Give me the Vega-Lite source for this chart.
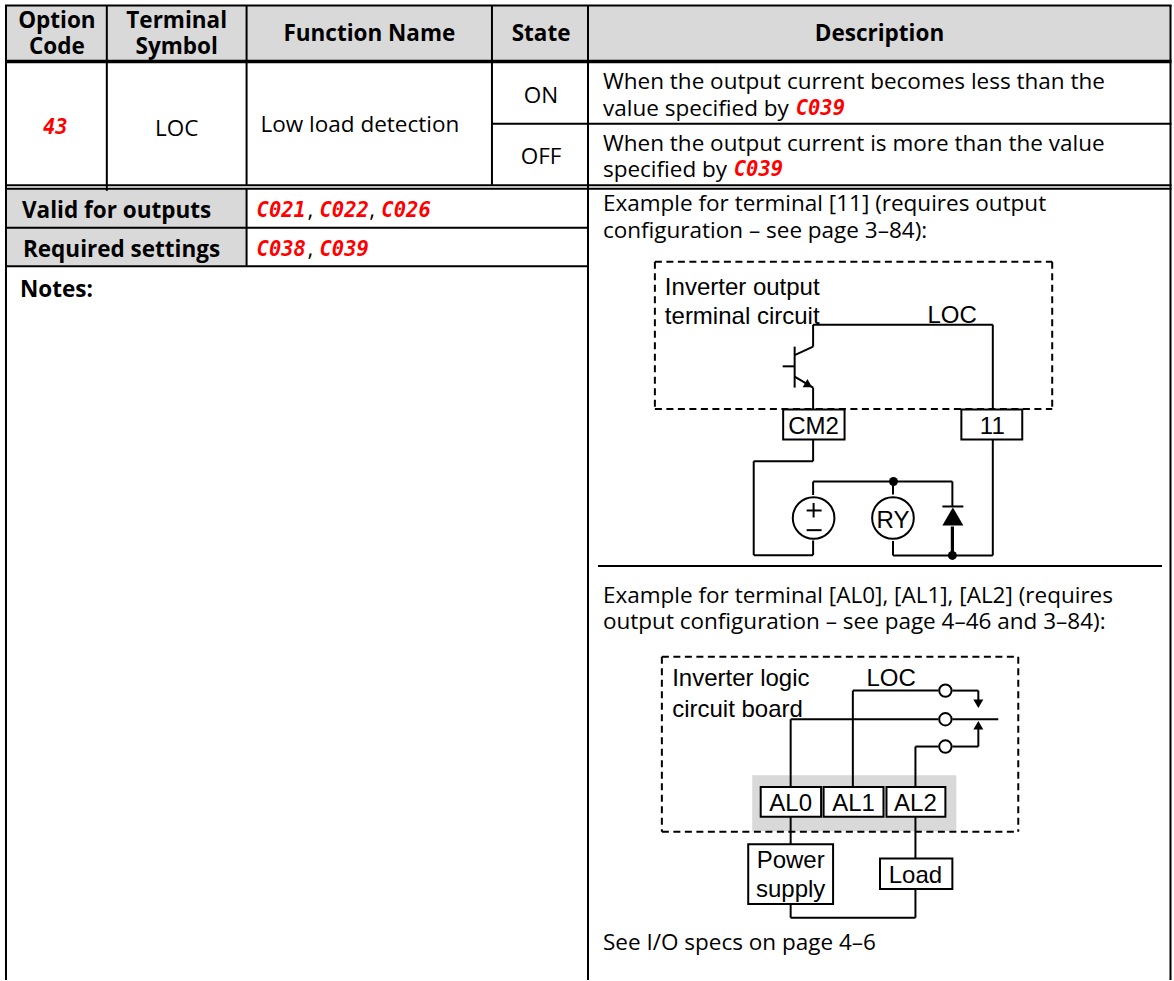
{"$schema":"https://vega.github.io/schema/vega-lite/v6.json","width":1174,"height":981,"autosize":{"type":"fit","contains":"padding"},"padding":0,"background":"white","view":{"stroke":null},
"datasets":{
"gray":[{"x":6,"x2":1172,"y":6,"y2":60},{"x":6,"x2":247,"y":189,"y2":266},{"x":753.5,"x2":958,"y":776,"y2":832}],
"thin":[
{"x":5,"x2":1173.5,"y":5.5,"y2":5.5},{"x":6,"x2":1173.5,"y":185.5,"y2":185.5},{"x":6,"x2":1173.5,"y":189,"y2":189},{"x":492.8,"x2":1173.5,"y":124,"y2":124},{"x":6,"x2":589,"y":228,"y2":228},{"x":6,"x2":589,"y":266.5,"y2":266.5},{"x":599,"x2":1164,"y":566.7,"y2":566.7},
{"x":6,"x2":6,"y":5,"y2":981},{"x":107,"x2":107,"y":5,"y2":191},{"x":247,"x2":247,"y":5,"y2":185},{"x":247,"x2":247,"y":189,"y2":266},{"x":492.8,"x2":492.8,"y":5,"y2":185},{"x":589,"x2":589,"y":5,"y2":981},{"x":1172.5,"x2":1172.5,"y":5,"y2":981}],
"thick":[{"x":5,"x2":1173.5,"y":61.5,"y2":61.5}],
"dash":[{"x":656,"x2":1054,"y":262,"y2":262},{"x":656,"x2":1054,"y":409.5,"y2":409.5},{"x":656,"x2":656,"y":262,"y2":409.5},{"x":1054,"x2":1054,"y":262,"y2":409.5},
{"x":663,"x2":1020,"y":657.5,"y2":657.5},{"x":663,"x2":1020,"y":832.5,"y2":832.5},{"x":663,"x2":663,"y":657.5,"y2":832.5},{"x":1020,"x2":1020,"y":657.5,"y2":832.5}],
"wires":[
{"x":814.5,"x2":994.5,"y":325,"y2":325},{"x":994.5,"x2":994.5,"y":325,"y2":410},{"x":814.5,"x2":814.5,"y":325,"y2":347},{"x":814.5,"x2":796,"y":347,"y2":355.5},{"x":796,"x2":796,"y":347,"y2":388},{"x":784,"x2":796,"y":366.7,"y2":366.7},{"x":796,"x2":814.5,"y":377,"y2":388},{"x":814.5,"x2":814.5,"y":388,"y2":410},
{"x":814.5,"x2":814.5,"y":440,"y2":461.7},{"x":814.5,"x2":755,"y":461.7,"y2":461.7},{"x":755,"x2":755,"y":461.7,"y2":555.7},{"x":755,"x2":814.5,"y":555.7,"y2":555.7},{"x":814.5,"x2":814.5,"y":555.7,"y2":541},
{"x":814.5,"x2":814.5,"y":495.5,"y2":482},{"x":814.5,"x2":954,"y":482,"y2":482},{"x":954,"x2":954,"y":482,"y2":507},{"x":944,"x2":965,"y":507,"y2":507},
{"x":894.5,"x2":894.5,"y":482,"y2":495},{"x":894.5,"x2":894.5,"y":541.5,"y2":556},{"x":894.5,"x2":994.5,"y":556,"y2":556},{"x":994.5,"x2":994.5,"y":556,"y2":440},
{"x":808,"x2":823,"y":511,"y2":511},{"x":815,"x2":815,"y":503.5,"y2":518},{"x":808,"x2":823,"y":530.7,"y2":530.7},
{"x":854.3,"x2":854.3,"y":788,"y2":691.3},{"x":854.3,"x2":940,"y":691.3,"y2":691.3},{"x":954,"x2":980,"y":691.3,"y2":691.3},{"x":980,"x2":980,"y":691.3,"y2":702},
{"x":792,"x2":792,"y":788,"y2":720},{"x":792,"x2":940,"y":720,"y2":720},{"x":954,"x2":1000,"y":720,"y2":720},
{"x":917,"x2":917,"y":788,"y2":747.3},{"x":917,"x2":940,"y":747.3,"y2":747.3},{"x":954,"x2":980,"y":747.3,"y2":747.3},{"x":980,"x2":980,"y":747.3,"y2":729},
{"x":792,"x2":792,"y":818,"y2":845},{"x":917,"x2":917,"y":818,"y2":859.5},{"x":792,"x2":792,"y":905,"y2":918.7},{"x":792,"x2":917,"y":918.7,"y2":918.7},{"x":917,"x2":917,"y":918.7,"y2":890}],
"heavy":[{"x":954,"x2":954,"y":527,"y2":556}],
"boxes":[{"x":784.5,"x2":846,"y":410,"y2":440},{"x":963,"x2":1024,"y":410,"y2":440},{"x":762,"x2":822.5,"y":787.7,"y2":817.7},{"x":825,"x2":885,"y":787.7,"y2":817.7},{"x":888,"x2":947,"y":787.7,"y2":817.7},{"x":749.5,"x2":834.5,"y":845,"y2":905},{"x":881.5,"x2":954,"y":859.5,"y2":890}],
"bigCircles":[{"x":815,"y":518.5},{"x":894.5,"y":518.5}],
"contacts":[{"x":947,"y":691.3},{"x":947,"y":720},{"x":947,"y":747.3}],
"dots":[{"x":895,"y":482},{"x":954,"y":556}],
"diode":[{"x":954.5,"y":517}],
"arrowDown":[{"x":980,"y":704.5}],
"arrowUp":[{"x":980,"y":726}],
"emitter":[{"x":810,"y":385.5,"a":120}],
"body":[
{"x":604,"y":89,"t":"When the output current becomes less than the"},{"x":604,"y":116,"t":"value specified by"},{"x":604,"y":151,"t":"When the output current is more than the value"},{"x":604,"y":177.5,"t":"specified by"},{"x":604,"y":211,"t":"Example for terminal [11] (requires output"},{"x":604,"y":238,"t":"configuration – see page 3–84):"},{"x":604,"y":604,"t":"Example for terminal [AL0], [AL1], [AL2] (requires"},{"x":604,"y":630,"t":"output configuration – see page 4–46 and 3–84):"},{"x":604,"y":951,"t":"See I/O specs on page 4–6"},{"x":261,"y":132.5,"t":"Low load detection"},{"x":308,"y":217,"t":","},{"x":370,"y":217,"t":","},{"x":308,"y":256,"t":","}],
"bodyC":[{"x":177,"y":136,"t":"LOC"},{"x":542,"y":103,"t":"ON"},{"x":542,"y":164,"t":"OFF"}],
"bold":[{"x":22,"y":218,"t":"Valid for outputs"},{"x":23,"y":257,"t":"Required settings"},{"x":20,"y":297.5,"t":"Notes:"}],
"boldC":[{"x":57,"y":28,"t":"Option"},{"x":57,"y":54,"t":"Code"},{"x":177,"y":28,"t":"Terminal"},{"x":177,"y":54,"t":"Symbol"},{"x":370,"y":41,"t":"Function Name"},{"x":542,"y":41,"t":"State"},{"x":881,"y":41,"t":"Description"}],
"seg":[{"x":257,"y":217,"t":"C021"},{"x":320,"y":217,"t":"C022"},{"x":382,"y":217,"t":"C026"},{"x":257,"y":256,"t":"C038"},{"x":320,"y":256,"t":"C039"},{"x":43,"y":134,"t":"43"},{"x":797,"y":115,"t":"C039"},{"x":735,"y":176.5,"t":"C039"}],
"diagL":[{"x":666,"y":295.5,"t":"Inverter output"},{"x":666,"y":324.5,"t":"terminal circuit"},{"x":929,"y":323,"t":"LOC"},{"x":673.3,"y":687,"t":"Inverter logic"},{"x":673.3,"y":717.5,"t":"circuit board"},{"x":868,"y":687,"t":"LOC"}],
"diagC":[{"x":815,"y":434,"t":"CM2"},{"x":994,"y":434,"t":"11"},{"x":894.5,"y":529,"t":"RY"},{"x":792,"y":811.5,"t":"AL0"},{"x":855,"y":811.5,"t":"AL1"},{"x":917,"y":811.5,"t":"AL2"},{"x":792,"y":869,"t":"Power"},{"x":792,"y":898,"t":"supply"},{"x":917,"y":883.5,"t":"Load"}]
},
"encoding":{"x":{"field":"x","type":"quantitative","scale":{"domain":[0,1174],"nice":false,"zero":false},"axis":null},"y":{"field":"y","type":"quantitative","scale":{"domain":[981,0],"nice":false,"zero":false},"axis":null}},
"layer":[
{"data":{"name":"gray"},"mark":{"type":"rect","fill":"#d9d9d9"},"encoding":{"x2":{"field":"x2"},"y2":{"field":"y2"}}},
{"data":{"name":"thin"},"mark":{"type":"rule","stroke":"#000","strokeWidth":2},"encoding":{"x2":{"field":"x2"},"y2":{"field":"y2"}}},
{"data":{"name":"thick"},"mark":{"type":"rule","stroke":"#000","strokeWidth":3.5},"encoding":{"x2":{"field":"x2"},"y2":{"field":"y2"}}},
{"data":{"name":"dash"},"mark":{"type":"rule","stroke":"#000","strokeWidth":2,"strokeDash":[7,4.5]},"encoding":{"x2":{"field":"x2"},"y2":{"field":"y2"}}},
{"data":{"name":"wires"},"mark":{"type":"rule","stroke":"#000","strokeWidth":2},"encoding":{"x2":{"field":"x2"},"y2":{"field":"y2"}}},
{"data":{"name":"heavy"},"mark":{"type":"rule","stroke":"#000","strokeWidth":3.2},"encoding":{"x2":{"field":"x2"},"y2":{"field":"y2"}}},
{"data":{"name":"boxes"},"mark":{"type":"rect","fill":"#fff","stroke":"#000","strokeWidth":2},"encoding":{"x2":{"field":"x2"},"y2":{"field":"y2"}}},
{"data":{"name":"bigCircles"},"mark":{"type":"point","shape":"circle","size":1735,"filled":false,"stroke":"#000","strokeWidth":2,"opacity":1}},
{"data":{"name":"contacts"},"mark":{"type":"point","shape":"circle","size":154,"fill":"#fff","filled":true,"stroke":"#000","strokeWidth":2,"opacity":1}},
{"data":{"name":"dots"},"mark":{"type":"point","shape":"circle","size":80,"filled":true,"fill":"#000","opacity":1}},
{"data":{"name":"diode"},"mark":{"type":"point","shape":"triangle-up","size":441,"filled":true,"fill":"#000","opacity":1}},
{"data":{"name":"arrowDown"},"mark":{"type":"point","shape":"triangle-down","size":100,"filled":true,"fill":"#000","opacity":1}},
{"data":{"name":"arrowUp"},"mark":{"type":"point","shape":"triangle-up","size":100,"filled":true,"fill":"#000","opacity":1}},
{"data":{"name":"emitter"},"mark":{"type":"point","shape":"triangle-up","size":90,"filled":true,"fill":"#000","opacity":1},"encoding":{"angle":{"field":"a","type":"quantitative","scale":null}}},
{"data":{"name":"body"},"mark":{"type":"text","align":"left","baseline":"alphabetic","font":"Open Sans","fontSize":22.5,"fill":"#000"},"encoding":{"text":{"field":"t"}}},
{"data":{"name":"bodyC"},"mark":{"type":"text","align":"center","baseline":"alphabetic","font":"Open Sans","fontSize":22.5,"fill":"#000"},"encoding":{"text":{"field":"t"}}},
{"data":{"name":"bold"},"mark":{"type":"text","align":"left","baseline":"alphabetic","font":"Open Sans","fontWeight":"bold","fontSize":22.5,"fill":"#000"},"encoding":{"text":{"field":"t"}}},
{"data":{"name":"boldC"},"mark":{"type":"text","align":"center","baseline":"alphabetic","font":"Open Sans","fontWeight":"bold","fontSize":22.5,"fill":"#000"},"encoding":{"text":{"field":"t"}}},
{"data":{"name":"seg"},"mark":{"type":"text","align":"left","baseline":"alphabetic","font":"DejaVu Sans Mono","fontWeight":"bold","fontStyle":"italic","fontSize":20.5,"fill":"#ff0000"},"encoding":{"text":{"field":"t"}}},
{"data":{"name":"diagL"},"mark":{"type":"text","align":"left","baseline":"alphabetic","font":"Liberation Sans","fontSize":24,"fill":"#000"},"encoding":{"text":{"field":"t"}}},
{"data":{"name":"diagC"},"mark":{"type":"text","align":"center","baseline":"alphabetic","font":"Liberation Sans","fontSize":24,"fill":"#000"},"encoding":{"text":{"field":"t"}}}
]}
